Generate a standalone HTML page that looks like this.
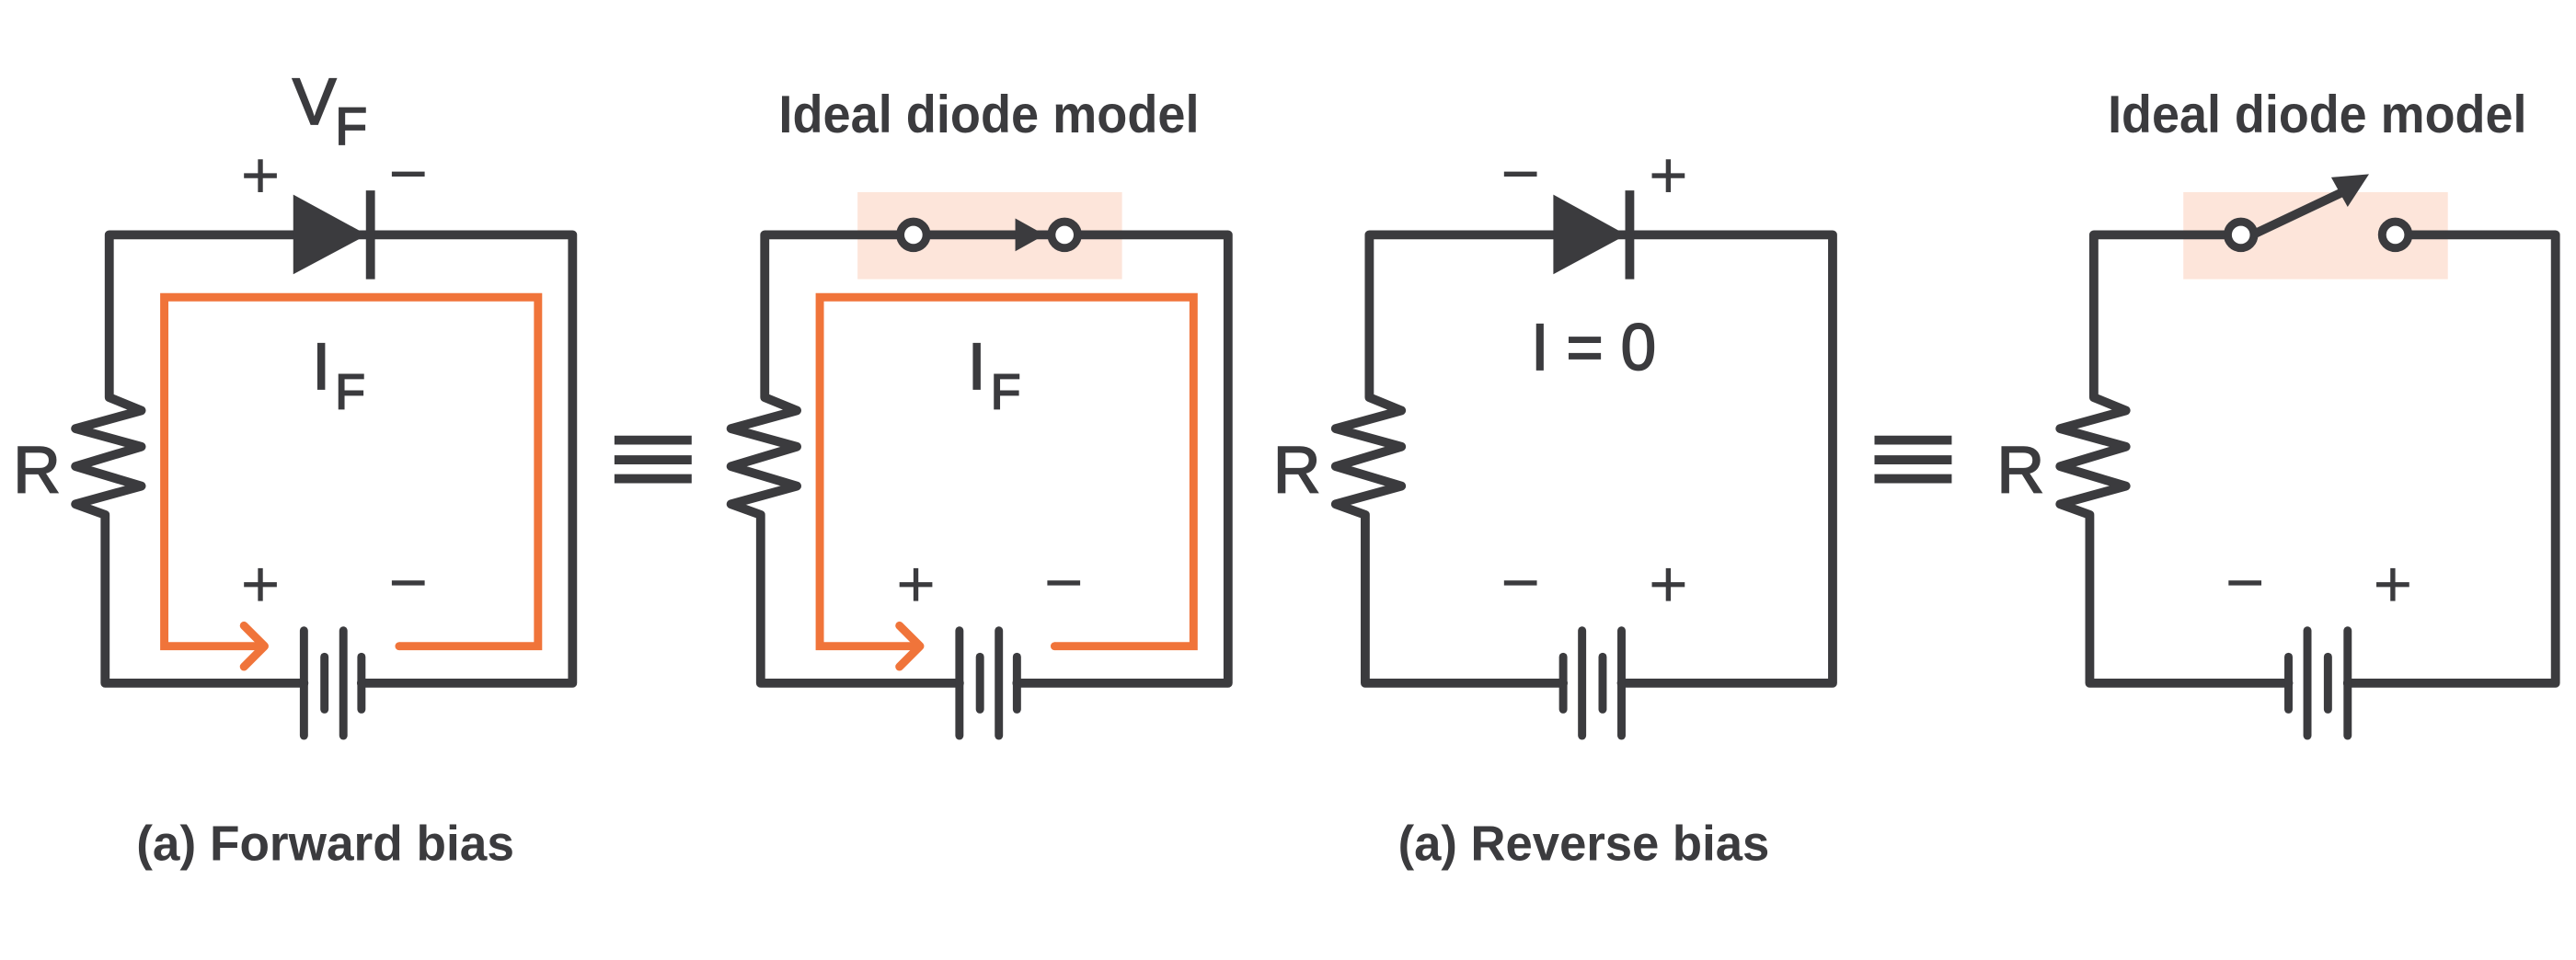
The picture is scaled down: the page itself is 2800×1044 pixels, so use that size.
<!DOCTYPE html>
<html><head><meta charset="utf-8"><style>html,body{margin:0;padding:0;background:#fff}svg{display:block}</style></head>
<body>
<svg width="2800" height="1044" viewBox="0 0 1568 584.6" xmlns="http://www.w3.org/2000/svg">
<defs>
<g id="plus"><line x1="-10" y1="0" x2="10" y2="0"/><line x1="0" y1="-10" x2="0" y2="10"/></g>
<g id="minus"><line x1="-10" y1="0" x2="10" y2="0"/></g>
</defs>
<rect width="1568" height="584.6" fill="#fff"/>
<rect x="522" y="117" width="161" height="53" fill="#fde5da"/>
<rect x="1329" y="117" width="161" height="53" fill="#fde5da"/>

<g fill="none" stroke="#3b3b3e" stroke-width="5.5" stroke-linejoin="round" stroke-linecap="round">
<path d="M185 416 L64 416 L64 313.5 L46 307 L86 296 L46 284 L86 272 L46 261 L86 250 L66.5 242 L66.5 143 L348.5 143 L348.5 416 L220 416"/>
<path d="M584 416 L463 416 L463 313.5 L445 307 L485 296 L445 284 L485 272 L445 261 L485 250 L465.5 242 L465.5 143 L747.5 143 L747.5 416 L619 416"/>
<path d="M951.5 416 L831 416 L831 313.5 L813 307 L853 296 L813 284 L853 272 L813 261 L853 250 L833.5 242 L833.5 143 L1115.5 143 L1115.5 416 L987 416"/>
<path d="M1393 416 L1272 416 L1272 313.5 L1254 307 L1294 296 L1254 284 L1294 272 L1254 261 L1294 250 L1274.5 242 L1274.5 143 L1356 143"/>
<path d="M1466 143 L1555.5 143 L1555.5 416 L1429 416"/>
<g stroke-width="5">
<line x1="185" y1="384" x2="185" y2="448"/><line x1="197.5" y1="400" x2="197.5" y2="432"/><line x1="209" y1="384" x2="209" y2="448"/><line x1="220" y1="400" x2="220" y2="432"/>
<line x1="584" y1="384" x2="584" y2="448"/><line x1="596.5" y1="400" x2="596.5" y2="432"/><line x1="608" y1="384" x2="608" y2="448"/><line x1="619" y1="400" x2="619" y2="432"/>
<line x1="951.5" y1="400" x2="951.5" y2="432"/><line x1="963" y1="384" x2="963" y2="448"/><line x1="975.5" y1="400" x2="975.5" y2="432"/><line x1="987" y1="384" x2="987" y2="448"/>
<line x1="1393" y1="400" x2="1393" y2="432"/><line x1="1404.5" y1="384" x2="1404.5" y2="448"/><line x1="1417" y1="400" x2="1417" y2="432"/><line x1="1429" y1="384" x2="1429" y2="448"/>
</g>
<line x1="225.5" y1="116" x2="225.5" y2="170" stroke-linecap="butt"/>
<line x1="992" y1="116" x2="992" y2="170" stroke-linecap="butt"/>
<g stroke-linecap="butt"><line x1="374" y1="268" x2="421" y2="268"/><line x1="374" y1="280" x2="421" y2="280"/><line x1="374" y1="291.5" x2="421" y2="291.5"/>
<line x1="1141" y1="268" x2="1188" y2="268"/><line x1="1141" y1="280" x2="1188" y2="280"/><line x1="1141" y1="291.5" x2="1188" y2="291.5"/></g>
<line x1="1371" y1="143" x2="1428" y2="116" stroke-linecap="butt"/>
<g fill="#fff" stroke-width="5"><circle cx="556" cy="143" r="8"/><circle cx="648" cy="143" r="8"/><circle cx="1364" cy="143" r="8"/><circle cx="1458" cy="143" r="8"/></g>
<g stroke-width="3" stroke-linecap="butt">
<use href="#plus" x="158.5" y="107"/><use href="#minus" x="248.5" y="106"/>
<use href="#plus" x="158.5" y="356"/><use href="#minus" x="248.5" y="355"/>
<use href="#plus" x="557.5" y="356"/><use href="#minus" x="647.5" y="355"/>
<use href="#minus" x="925.5" y="106"/><use href="#plus" x="1015.5" y="107"/>
<use href="#minus" x="925.5" y="355"/><use href="#plus" x="1015.5" y="356"/>
<use href="#minus" x="1366.5" y="355"/><use href="#plus" x="1456.5" y="356"/>
</g>
</g>
<g fill="#3b3b3e">
<polygon points="178.5,118.5 223.5,143 178.5,167"/>
<polygon points="945.5,118.5 990,143 945.5,167"/>
<polygon points="618,133 636,143 618,153"/>
<polygon points="1442,106 1419,108 1429,126"/>
</g>
<g fill="none" stroke="#f0743a" stroke-width="5" stroke-linejoin="miter">
<path d="M162 393.5 L100 393.5 L100 181 L327.5 181 L327.5 393.5 L243 393.5" stroke-linecap="butt"/>
<path d="M148.5 381 L161 393.5 L148.5 406" stroke-linecap="round" stroke-linejoin="round"/>
<path d="M561 393.5 L499 393.5 L499 181 L726.5 181 L726.5 393.5 L642 393.5"/>
<path d="M547.5 381 L560 393.5 L547.5 406" stroke-linecap="round" stroke-linejoin="round"/>
</g>
<circle cx="243" cy="393.5" r="2.5" fill="#f0743a"/><circle cx="642" cy="393.5" r="2.5" fill="#f0743a"/>
<g fill="#3b3b3e" font-family="Liberation Sans, sans-serif">
<g stroke="#3b3b3e" stroke-width="1">
<text x="178" y="75.5" font-size="40">V</text><text x="204" y="88" font-size="32">F</text>
<text x="8" y="300" font-size="40">R</text>
<text x="775" y="300" font-size="40">R</text>
<text x="1215.5" y="300" font-size="40">R</text>
<text x="190" y="237" font-size="40">I</text><text x="204" y="249" font-size="30">F</text>
<text x="589" y="237" font-size="40">I</text><text x="603" y="249" font-size="30">F</text>
<text x="932" y="225" font-size="40" textLength="76" lengthAdjust="spacingAndGlyphs">I = 0</text>
</g>
<text x="474" y="80.5" font-size="32" font-weight="bold" textLength="256" lengthAdjust="spacingAndGlyphs">Ideal diode model</text>
<text x="1283" y="80.5" font-size="32" font-weight="bold" textLength="255" lengthAdjust="spacingAndGlyphs">Ideal diode model</text>
<text x="83" y="524" font-size="30" font-weight="bold" textLength="230" lengthAdjust="spacingAndGlyphs">(a) Forward bias</text>
<text x="851" y="524" font-size="30" font-weight="bold" textLength="226" lengthAdjust="spacingAndGlyphs">(a) Reverse bias</text>
</g>
</svg>
</body></html>
